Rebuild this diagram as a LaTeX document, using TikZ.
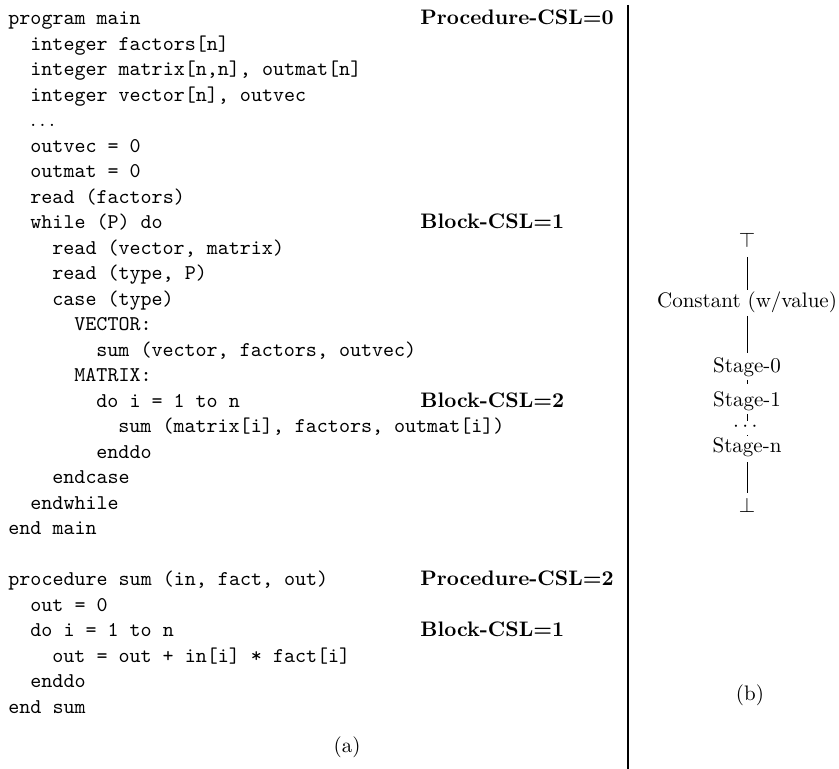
\documentclass[tikz,border=0pt]{standalone}
\usepackage{amsmath, amssymb}
\usepackage{tikz}

\tikzset{
  code/.style={anchor=base west,inner sep=0pt,font=\fontsize{10}{12}\selectfont\ttfamily},
  csl/.style={anchor=base west,inner sep=0pt,font=\fontsize{10}{12}\selectfont\bfseries},
  lat/.style={anchor=base,inner sep=1pt},
  latline/.style={line width=0.4pt},
}

\begin{document}
\begin{tikzpicture}[x=0.476pt,y=-0.476pt]
          \useasboundingbox (0,0) rectangle (839,769);
          % (a) the program text
          \node[code] (l1) at (8,25) {program main};
          \node[code] (l2) at (30,50.5) {integer factors[n]};
          \node[code] (l3) at (30,76) {integer matrix[n,n], outmat[n]};
          \node[code] (l4) at (30,101.5) {integer vector[n], outvec};
          \node[code] (l5) at (30,127) {$\ldots$};
          \node[code] (l6) at (30,152.5) {outvec = 0};
          \node[code] (l7) at (30,178) {outmat = 0};
          \node[code] (l8) at (30,203.5) {read (factors)};
          \node[code] (l9) at (30,229) {while (P) do};
          \node[code] (l10) at (52,254.5) {read (vector, matrix)};
          \node[code] (l11) at (52,280) {read (type, P)};
          \node[code] (l12) at (52,305.5) {case (type)};
          \node[code] (l13) at (74,331) {VECTOR:};
          \node[code] (l14) at (96,356.5) {sum (vector, factors, outvec)};
          \node[code] (l15) at (74,382) {MATRIX:};
          \node[code] (l16) at (96,407.5) {do i = 1 to n};
          \node[code] (l17) at (118,433) {sum (matrix[i], factors, outmat[i])};
          \node[code] (l18) at (96,458.5) {enddo};
          \node[code] (l19) at (52,484) {endcase};
          \node[code] (l20) at (30,509.5) {endwhile};
          \node[code] (l21) at (8,535) {end main};
          \node[code] (l23) at (8,586) {procedure sum (in, fact, out)};
          \node[code] (l24) at (30,611.5) {out = 0};
          \node[code] (l25) at (30,637) {do i = 1 to n};
          \node[code] (l26) at (52,662.5) {out = out + in[i] * fact[i]};
          \node[code] (l27) at (30,688) {enddo};
          \node[code] (l28) at (8,713.5) {end sum};
          % nesting levels
          \node[csl] (pcsl0) at (420,25) {Procedure-CSL=0};
          \node[csl] (bcsl1) at (420,229) {Block-CSL=1};
          \node[csl] (bcsl2) at (420,407.5) {Block-CSL=2};
          \node[csl] (pcsl2) at (420,586) {Procedure-CSL=2};
          \node[csl] (bcsl1b) at (420,637) {Block-CSL=1};
          \node (capa) at (347,747) {(a)};
          % separator
          \draw[line width=0.7pt] (628,5) -- (628,769);
          % (b) the lattice
          \node[lat] (top) at (747,248) {$\top$};
          \node[lat] (const) at (747,308) {Constant (w/value)};
          \node[lat] (st0) at (747,373) {Stage-0};
          \node[lat] (st1) at (747,407) {Stage-1};
          \node[lat,inner sep=1.6pt,text height=3.1pt,text depth=-1.9pt] (dots) at (747,431.5) {$\cdots$};
          \node[lat] (stn) at (747,452.5) {Stage-n};
          \node[lat] (bot) at (747,513) {$\bot$};
          \draw[latline,shorten <=3pt] (top) -- (const);
          \draw[latline,shorten >=1.5pt] (const) -- (st0);
          \draw[latline,shorten >=2.5pt] (st0) -- (st1);
          \draw[latline] (st1) -- (dots);
          \draw[latline] (dots) -- (stn);
          \draw[latline,shorten <=1.5pt,shorten >=1.5pt] (stn) -- (bot);
          \node (capb) at (750,695) {(b)};
        \end{tikzpicture}
\end{document}
